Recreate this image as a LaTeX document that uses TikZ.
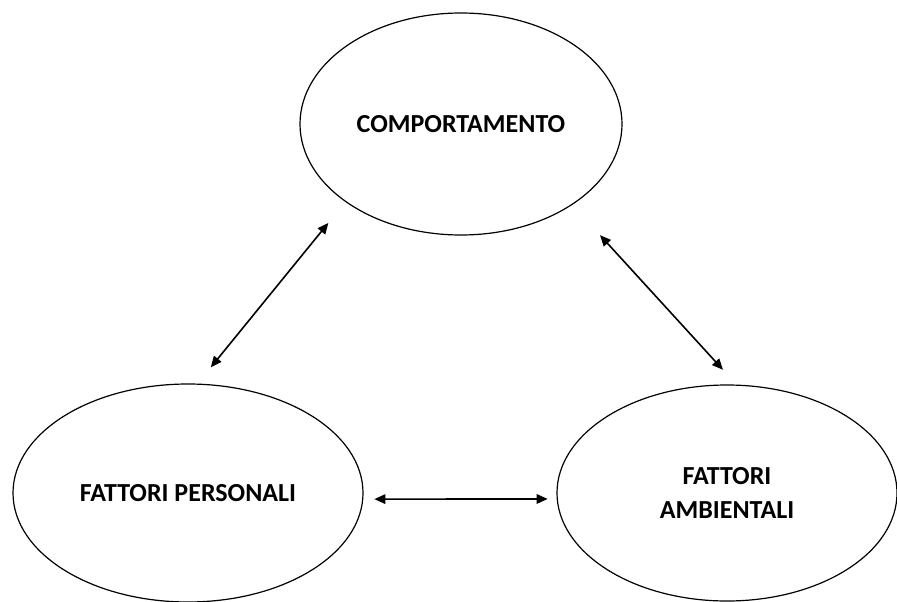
\documentclass[tikz,border=0pt]{standalone}
\usepackage{fontspec}
\setmainfont{Carlito}
\usetikzlibrary{shapes.geometric,arrows.meta}

\begin{document}
\begin{tikzpicture}[x=1pt,y=-1pt]
          \tikzset{FactorStyle/.style = {ellipse, draw, line width=1.2pt, inner sep=0pt,
                   align=center, font=\fontsize{26}{34}\selectfont\bfseries}}
          \tikzset{LinkStyle/.style = {{Triangle[length=11pt,width=9.5pt]}-{Triangle[length=11pt,width=9.5pt]},
                   line width=1.6pt}}
          \useasboundingbox (0,0) rectangle (897,602);

          \node[FactorStyle, minimum width=322pt, minimum height=222pt] (comp) at (461,124) {COMPORTAMENTO};
          \node[FactorStyle, minimum width=350pt, minimum height=218pt] (pers) at (188,493) {FATTORI PERSONALI};
          \node[FactorStyle, minimum width=340pt, minimum height=216pt] (amb) at (727,493) {FATTORI\\AMBIENTALI};

          \draw[LinkStyle, shorten <=21pt, shorten >=27pt] (pers.85) -- (comp.214);
          \draw[LinkStyle, shorten <=41pt, shorten >=20pt] (comp.324) -- (amb.85);
          \draw[LinkStyle, shorten <=11pt, shorten >=9pt] (pers.-2.3) -- (amb.182.4);
        \end{tikzpicture}
\end{document}
